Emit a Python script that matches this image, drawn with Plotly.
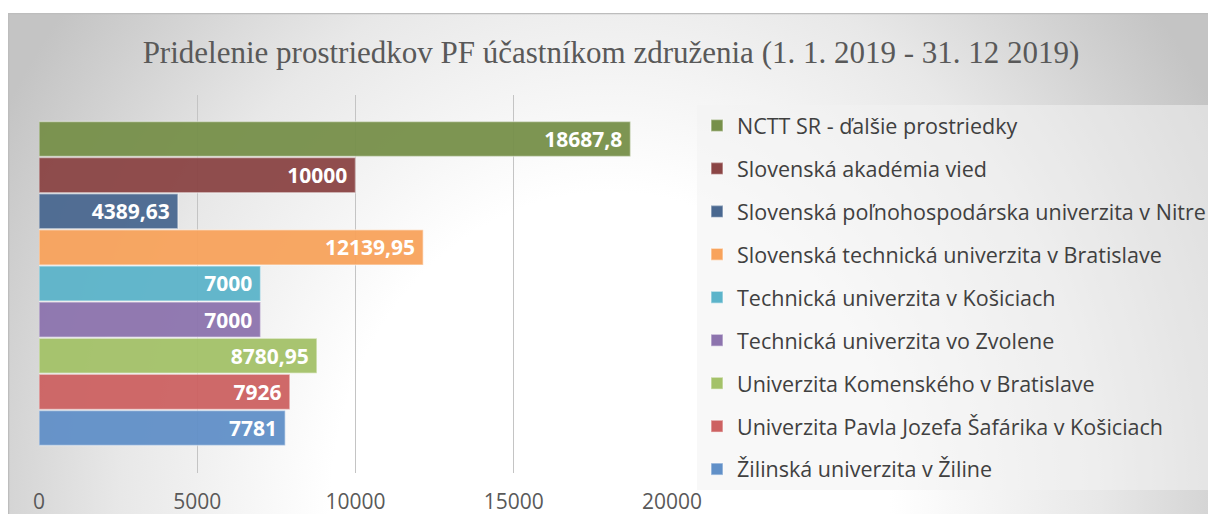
import base64
import plotly.graph_objects as go

categories = [
    "NCTT SR - ďalšie prostriedky",
    "Slovenská akadémia vied",
    "Slovenská poľnohospodárska univerzita v Nitre",
    "Slovenská technická univerzita v Bratislave",
    "Technická univerzita v Košiciach",
    "Technická univerzita vo Zvolene",
    "Univerzita Komenského v Bratislave",
    "Univerzita Pavla Jozefa Šafárika v Košiciach",
    "Žilinská univerzita v Žiline",
]
values = [18687.8, 10000, 4389.63, 12139.95, 7000, 7000, 8780.95, 7926, 7781]
colors = ["#77904a", "#8b4545", "#4a6890", "#f8a35c", "#5cb4ca",
          "#8d74ae", "#a4c269", "#cd6262", "#6190c8"]
tick_vals = [0, 5000, 10000, 15000, 20000]
tick_text = ["0", "5000", "10000", "15000", "20000"]
title_text = "Pridelenie prostriedkov PF účastníkom združenia (1. 1. 2019 - 31. 12 2019)"

W, H = 1208, 514
L, R, T, B = 39, 1208 - 672, 95, 514 - 473
pw, ph = W - L - R, H - T - B

fig = go.Figure()
for name, v, c in zip(categories, values, colors):
    label = (f"{v:.2f}".rstrip("0").rstrip(".")).replace(".", ",")
    fig.add_trace(go.Bar(
        y=[name], x=[v], orientation="h", name=name,
        legendgroup=name,
        marker=dict(color=c, opacity=0.95,
                    line=dict(color="rgba(255,255,255,0.45)", width=1.5)),
        text=[label + "\u2005"], textposition="inside", insidetextanchor="end",
        textfont=dict(family="Open Sans", size=21, color="white", weight="bold"),
        constraintext="none", cliponaxis=False, hoverinfo="x+name",
    ))

# background gradient (chart frame) as inline SVG
cw, ch = 1200, 501
svg = f"""<svg xmlns='http://www.w3.org/2000/svg' width='{cw}' height='{ch}' viewBox='0 0 {cw} {ch}' preserveAspectRatio='none'>
<defs><radialGradient id='g' gradientUnits='userSpaceOnUse' cx='602' cy='501' r='700'
gradientTransform='translate(602 501) scale(1 1.15) translate(-602 -501)'>
<stop offset='0' stop-color='#ffffff'/><stop offset='0.4' stop-color='#ffffff'/>
<stop offset='0.7' stop-color='#e8e8e8'/><stop offset='0.88' stop-color='#d2d2d2'/>
<stop offset='1' stop-color='#c4c4c4'/></radialGradient></defs>
<rect x='0' y='0' width='{cw}' height='{ch}' fill='url(#g)'/>
<path d='M0.5 {ch} V0.5 H{cw}' fill='none' stroke='#bdbdbd' stroke-width='1.5'/>
</svg>"""
src = "data:image/svg+xml;base64," + base64.b64encode(svg.encode()).decode()
x0 = (8 - L) / pw
y0 = (H - B - 13) / ph
fig.add_layout_image(dict(source=src, xref="paper", yref="paper", x=x0, y=y0,
                          sizex=cw / pw, sizey=ch / ph, sizing="stretch",
                          xanchor="left", yanchor="top", layer="below"))

fig.update_layout(
    width=W, height=H,
    margin=dict(l=L, r=R, t=T, b=B, autoexpand=False),
    paper_bgcolor="white", plot_bgcolor="rgba(0,0,0,0)",
    barmode="relative", bargap=0.03,
    showlegend=True,
    uniformtext=dict(minsize=21, mode="show"),
    title=dict(text=title_text, x=611 / W, xref="container", xanchor="center",
               y=1 - 52 / H, yref="container", yanchor="middle",
               font=dict(family="Liberation Serif", size=31, color="#595959")),
    legend=dict(xref="container", yref="container", x=697 / W, y=1 - 105 / H,
                xanchor="left", yanchor="top", bgcolor="rgba(242,242,242,0.55)",
                borderwidth=0, tracegroupgap=12, maxheight=1.0,
                font=dict(family="Open Sans", size=21.5, color="#404040")),
    xaxis=dict(range=[0, 20000], tickvals=tick_vals, ticktext=tick_text,
               showgrid=True, gridcolor="#c4c4c4", gridwidth=1, zeroline=False,
               showline=False, ticks="", ticklabelstandoff=14, automargin=False,
               tickfont=dict(family="Open Sans", size=21, color="#595959"),
               fixedrange=True),
    yaxis=dict(categoryorder="array", categoryarray=categories, automargin=False,
               range=[9.246, -1.218], showticklabels=False, showgrid=False,
               zeroline=False, ticks="", fixedrange=True),
)

post = """
var st = document.createElement('style');
st.textContent = 'html,body{margin:0;padding:0;overflow:hidden;}';
document.head.appendChild(st);
"""
fig.write_html("out.html", config={"responsive": False, "displayModeBar": False},
               post_script=post)
